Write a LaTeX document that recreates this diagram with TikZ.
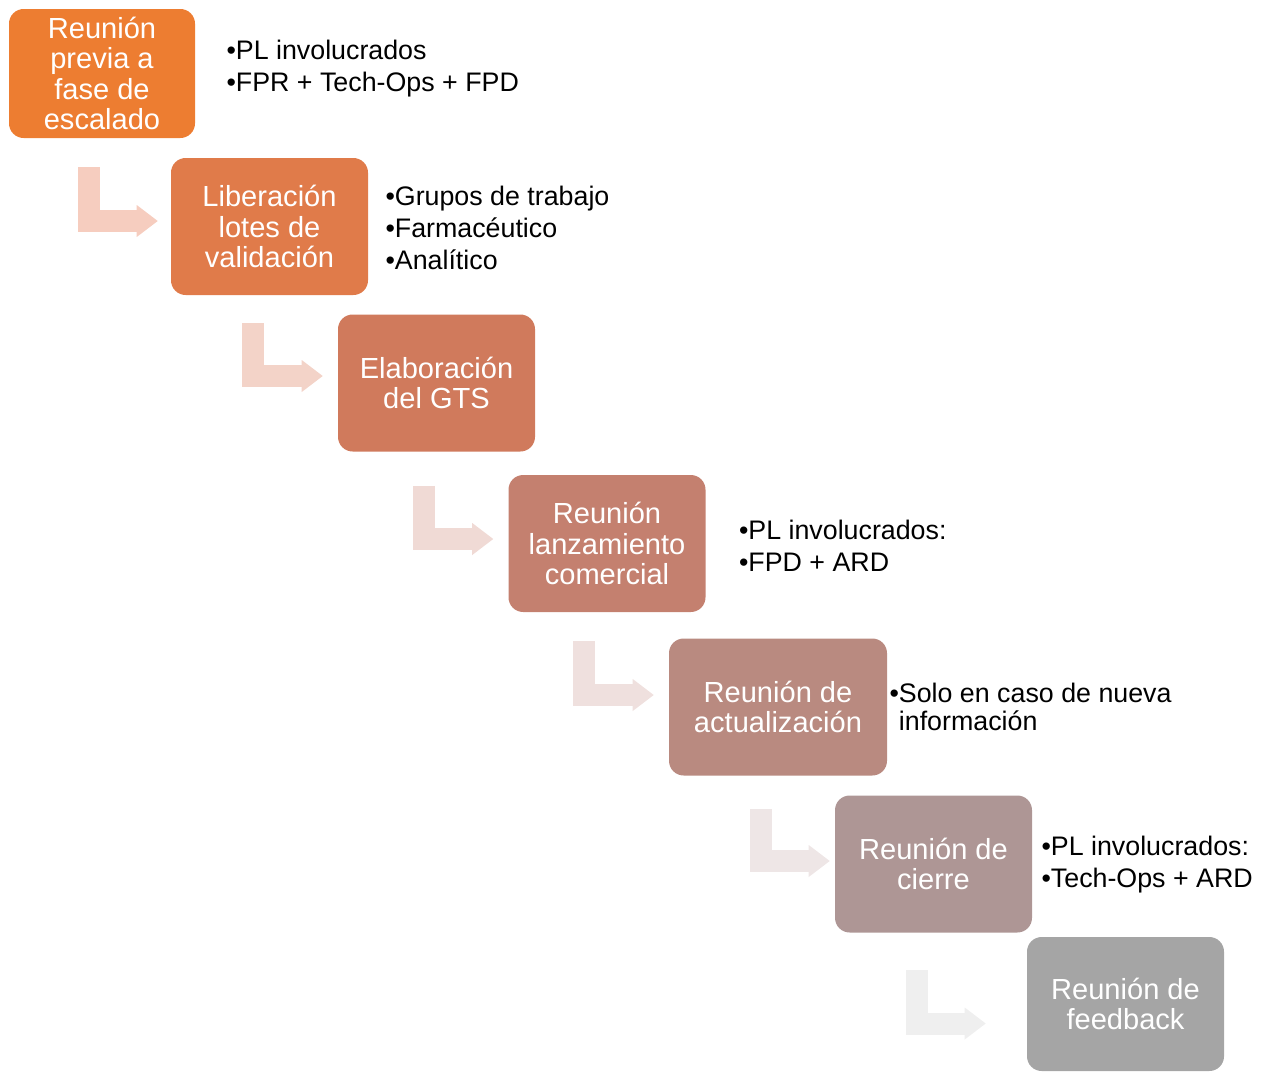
\documentclass[tikz,border=0pt]{standalone}
\usepackage{fontspec}
\setmainfont{Liberation Sans}
\usepackage{tikz}
\usetikzlibrary{arrows.meta, positioning}

\definecolor{boxA}{HTML}{ED7D31}
\definecolor{boxB}{HTML}{E07B4A}
\definecolor{boxC}{HTML}{D07A5C}
\definecolor{boxD}{HTML}{C4806F}
\definecolor{boxE}{HTML}{B98A80}
\definecolor{boxF}{HTML}{AE9695}
\definecolor{boxG}{HTML}{A5A5A5}
\definecolor{bendA}{HTML}{F6CDBF}
\definecolor{bendB}{HTML}{F3D3C8}
\definecolor{bendC}{HTML}{F0DAD5}
\definecolor{bendD}{HTML}{EFE0DE}
\definecolor{bendE}{HTML}{EEE6E6}
\definecolor{bendF}{HTML}{EFEFEF}

\newcommand{\itm}[1]{•#1}

\tikzset{
  stepbox/.style={rounded corners=11pt, minimum width=147.75pt, minimum height=102.75pt,
    align=center, text=white, inner sep=0pt, font=\fontsize{21.8}{22.7}\selectfont},
  note/.style={align=left, inner sep=0pt, font=\fontsize{20.1}{24}\selectfont},
  bendarrow/.style={line width=16.5pt, -{Triangle[length=15.75pt, width=24pt, line width=0pt]}}
}

\begin{document}
\begin{tikzpicture}[x=0.75pt, y=-0.75pt]
    \useasboundingbox (0,0) rectangle (1267,1071);

    \node[stepbox, fill=boxA, minimum width=139.5pt, minimum height=96.75pt] (r1) at (102,73.5) {Reunión\\previa a\\fase de\\escalado};
    \node[stepbox, fill=boxB] (r2) at (269.5,226.5) {Liberación\\lotes de\\validación};
    \node[stepbox, fill=boxC] (r3) at (436.5,383) {Elaboración\\del GTS};
    \node[stepbox, fill=boxD] (r4) at (607,543.5) {Reunión\\lanzamiento\\comercial};
    \node[stepbox, fill=boxE, minimum width=163.5pt] (r5) at (778,707) {Reunión de\\actualización};
    \node[stepbox, fill=boxF] (r6) at (933.5,864) {Reunión de\\cierre};
    \node[stepbox, fill=boxG, minimum height=100.5pt] (r7) at (1125.5,1004) {Reunión de\\feedback};

    \node[note, right=23.25pt of r1, yshift=3.4pt] (n1) {\itm{PL involucrados}\\\itm{FPR + Tech-Ops + FPD}};
    \node[note, right=12.75pt of r2, yshift=-1.1pt] (n2) {\itm{Grupos de trabajo}\\\itm{Farmacéutico}\\\itm{Analítico}};
    \node[note, right=24.75pt of r4, yshift=-1.9pt] (n4) {\itm{PL involucrados:}\\\itm{FPD + ARD}};
    \node[note, right=1.5pt of r5] (n5) {\itm{Solo en caso de nueva}\\[-3pt]\phantom{•}información};
    \node[note, right=6.75pt of r6, yshift=-0.7pt] (n6) {\itm{PL involucrados:}\\\itm{Tech-Ops + ARD}};

    \draw[bendarrow, bendA] ([shift={(80,29)}]r1.south west) |- ([shift={(-13,-5.5)}]r2.west);
    \draw[bendarrow, bendB] ([shift={(82,28)}]r2.south west) |- ([shift={(-15,-7)}]r3.west);
    \draw[bendarrow, bendC] ([shift={(86,34)}]r3.south west) |- ([shift={(-15,-4.5)}]r4.west);
    \draw[bendarrow, bendD] ([shift={(76,29)}]r4.south west) |- ([shift={(-15,-12)}]r5.west);
    \draw[bendarrow, bendE] ([shift={(92,33)}]r5.south west) |- ([shift={(-5,-3)}]r6.west);
    \draw[bendarrow, bendF] ([shift={(82,37)}]r6.south west) |- ([shift={(-41,19.5)}]r7.west);
\end{tikzpicture}
\end{document}
